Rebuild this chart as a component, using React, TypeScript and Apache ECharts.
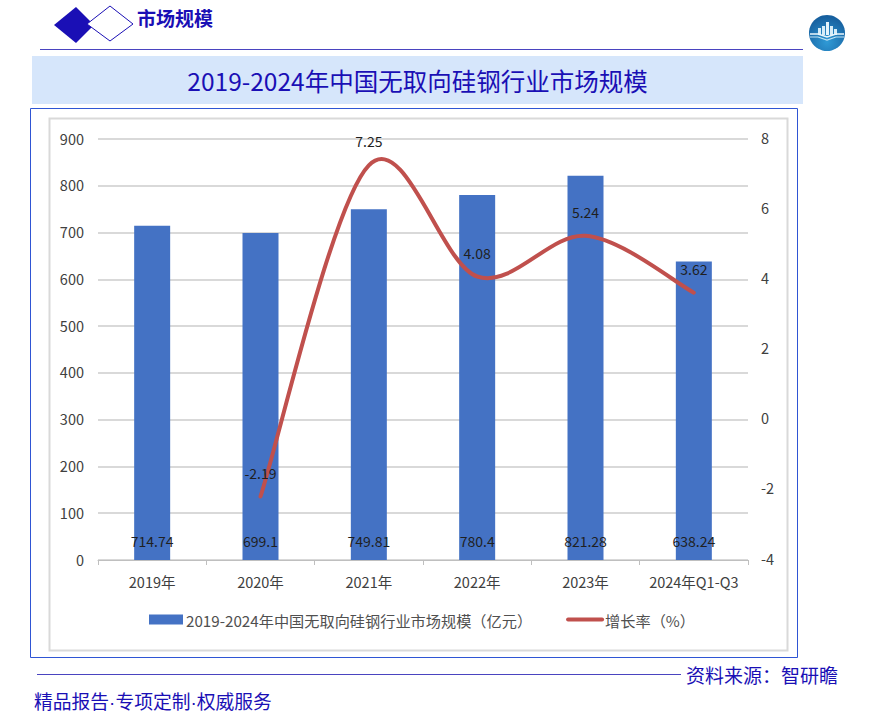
import React, { useEffect, useRef } from "react";
import * as echarts from "echarts";

const categories = ["2019年", "2020年", "2021年", "2022年", "2023年", "2024年Q1-Q3"];
const marketSize = [714.74, 699.1, 749.81, 780.4, 821.28, 638.24];
const growthRate: (number | null)[] = [null, -2.19, 7.25, 4.08, 5.24, 3.62];
const barName = "2019-2024年中国无取向硅钢行业市场规模（亿元）";
const lineName = "增长率（%）";
const titleText = "2019-2024年中国无取向硅钢行业市场规模";
const sectionText = "市场规模";
const sourceText = "资料来源：智研瞻";
const sloganText = "精品报告·专项定制·权威服务";

const FONT = '"Noto Sans CJK SC", "Noto Sans", sans-serif';
const NAVY = "#1A0FB5";

function curvePath(pts: number[][]): string {
  let d = `M${pts[0][0]} ${pts[0][1]}`;
  for (let i = 0; i < pts.length - 1; i++) {
    const p0 = pts[Math.max(i - 1, 0)];
    const p1 = pts[i];
    const p2 = pts[i + 1];
    const p3 = pts[Math.min(i + 2, pts.length - 1)];
    const c1x = p1[0] + (p2[0] - p0[0]) / 6;
    const c1y = p1[1] + (p2[1] - p0[1]) / 6;
    const c2x = p2[0] - (p3[0] - p1[0]) / 6;
    const c2y = p2[1] - (p3[1] - p1[1]) / 6;
    d += `C${c1x} ${c1y} ${c2x} ${c2y} ${p2[0]} ${p2[1]}`;
  }
  return d;
}

export default function App() {
  const ref = useRef<HTMLDivElement>(null);
  useEffect(() => {
    const chart = echarts.init(ref.current!, undefined, { renderer: "svg" });
    chart.setOption({
      animation: false,
      backgroundColor: "#fff",
      textStyle: { fontFamily: FONT },
      grid: { left: 98, top: 139, width: 650, height: 421, containLabel: false },
      legend: {
        left: 149,
        top: 612,
        padding: 0,
        itemWidth: 34,
        itemHeight: 10,
        itemGap: 34,
        textStyle: { fontSize: 15.2, color: "#505050", fontFamily: FONT, padding: [0, 0, 0, -2] },
        data: [
          { name: barName, icon: "rect" },
          {
            name: lineName,
            lineStyle: { opacity: 1, color: "#C0504D", width: 4, cap: "round" },
            itemStyle: { opacity: 0 },
          },
        ],
      },
      xAxis: {
        type: "category",
        data: categories,
        axisLine: { onZero: false, lineStyle: { color: "#BFBFBF", width: 1 } },
        axisTick: { show: true, length: 5, lineStyle: { color: "#BFBFBF" } },
        axisLabel: { color: "#404040", fontSize: 14.5, margin: 14, fontFamily: FONT, interval: 0 },
      },
      yAxis: [
        {
          type: "value",
          min: 0,
          max: 900,
          interval: 100,
          axisLine: { show: false },
          axisTick: { show: false },
          splitLine: { lineStyle: { color: "#D9D9D9", width: 2 } },
          axisLabel: {
            color: "#404040",
            fontSize: 14.5,
            margin: 14,
            fontFamily: FONT,
            verticalAlign: "bottom",
            lineHeight: 2,
          },
        },
        {
          type: "value",
          min: -4,
          max: 8,
          interval: 2,
          position: "right",
          axisLine: { show: false },
          axisTick: { show: false },
          splitLine: { show: false },
          axisLabel: {
            color: "#404040",
            fontSize: 14.5,
            margin: 13,
            fontFamily: FONT,
            verticalAlign: "bottom",
            lineHeight: 4,
          },
        },
      ],
      series: [
        {
          name: barName,
          type: "bar",
          data: marketSize,
          barWidth: 36,
          itemStyle: { color: "#4472C4" },
          label: {
            show: true,
            position: "insideBottom",
            distance: 12,
            color: "#1f1f1f",
            fontSize: 14,
            fontFamily: FONT,
          },
        },
        {
          name: lineName + "曲线",
          type: "custom",
          yAxisIndex: 1,
          z: 3,
          silent: true,
          data: growthRate.map((v, i) => [i, v]),
          encode: { x: 0, y: 1 },
          renderItem: (params: any, api: any) => {
            if (params.dataIndex !== 1) return null;
            const pts = growthRate
              .map((v, i) => (v == null ? null : api.coord([i, v])))
              .filter(Boolean) as number[][];
            return {
              type: "path",
              shape: { pathData: curvePath(pts) },
              style: { fill: "none", stroke: "#C0504D", lineWidth: 4, lineCap: "round" },
            };
          },
        },
        {
          name: lineName,
          type: "line",
          yAxisIndex: 1,
          z: 4,
          data: growthRate,
          symbol: "circle",
          symbolSize: 1,
          showSymbol: true,
          lineStyle: { opacity: 0, color: "#C0504D", width: 4 },
          itemStyle: { color: "#C0504D", opacity: 0 },
          label: {
            show: true,
            position: "top",
            distance: 16.5,
            color: "#1f1f1f",
            opacity: 1,
            fontSize: 14,
            fontFamily: FONT,
            formatter: (p: any) => String(p.value),
          },
        },
      ],
      graphic: [
        { type: "polygon", shape: { points: [[54, 25], [76, 7], [94, 25], [76, 43]] }, style: { fill: "#1A0FB5" } },
        {
          type: "polygon",
          shape: { points: [[87, 24], [110, 6], [133, 24], [110, 41]] },
          style: { fill: "#fff", stroke: "#1A0FB5", lineWidth: 1 },
        },
        {
          type: "text",
          x: 137,
          y: 17.5,
          style: { text: sectionText, font: `bold 19px ${FONT}`, fill: NAVY, textVerticalAlign: "middle" },
        },
        { type: "line", shape: { x1: 40, y1: 49.5, x2: 803, y2: 49.5 }, style: { stroke: "#4A44C0", lineWidth: 1 } },
        // logo
        {
          type: "circle",
          shape: { cx: 827, cy: 33, r: 18 },
          style: {
            fill: {
              type: "radial",
              x: 0.5,
              y: 0.75,
              r: 0.7,
              colorStops: [
                { offset: 0, color: "#2F9AD6" },
                { offset: 1, color: "#17609F" },
              ],
            },
          },
        },
        { type: "rect", shape: { x: 826, y: 22, width: 3, height: 13 }, style: { fill: "#E6F4FB" } },
        { type: "rect", shape: { x: 818, y: 28, width: 3, height: 7 }, style: { fill: "#D6ECF8" } },
        { type: "rect", shape: { x: 822, y: 26, width: 3, height: 9 }, style: { fill: "#D6ECF8" } },
        { type: "rect", shape: { x: 830, y: 26, width: 3, height: 9 }, style: { fill: "#D6ECF8" } },
        { type: "rect", shape: { x: 834, y: 29, width: 3, height: 6 }, style: { fill: "#D6ECF8" } },
        {
          type: "polyline",
          shape: { points: [[810, 34], [818, 34], [827, 37], [836, 34], [844, 34]] },
          style: { fill: "none", stroke: "#EAF6FC", lineWidth: 1.5 },
        },
        {
          type: "polyline",
          shape: { points: [[810, 37], [818, 37], [827, 40], [836, 37], [844, 37]] },
          style: { fill: "none", stroke: "#BFE3F5", lineWidth: 1.2 },
        },
        { type: "rect", z: -1, shape: { x: 32, y: 56, width: 771, height: 48 }, style: { fill: "#D6E6FB" } },
        {
          type: "text",
          x: 417.5,
          y: 80,
          style: {
            text: titleText,
            font: `24.5px ${FONT}`,
            fill: NAVY,
            textAlign: "center",
            textVerticalAlign: "middle",
          },
        },
        {
          type: "rect",
          z: -1,
          shape: { x: 30.5, y: 108.5, width: 767, height: 549 },
          style: { fill: "#fff", stroke: "#2F55D4", lineWidth: 1 },
        },
        {
          type: "rect",
          z: -1,
          shape: { x: 49.5, y: 118.5, width: 738, height: 532 },
          style: { fill: "#fff", stroke: "#D9D9D9", lineWidth: 2 },
        },
        { type: "line", shape: { x1: 37, y1: 674.5, x2: 681, y2: 674.5 }, style: { stroke: "#4A44C0", lineWidth: 1 } },
        {
          type: "text",
          x: 686,
          y: 674,
          style: { text: sourceText, font: `19px ${FONT}`, fill: NAVY, textVerticalAlign: "middle" },
        },
        {
          type: "text",
          x: 34,
          y: 702,
          style: {
            text: sloganText,
            font: `18.8px "Liberation Sans", ${FONT}`,
            fill: NAVY,
            textVerticalAlign: "middle",
          },
        },
      ],
    });
    return () => chart.dispose();
  }, []);
  return <div ref={ref} style={{ position: "absolute", left: 0, top: 0, width: 878, height: 727 }} />;
}
